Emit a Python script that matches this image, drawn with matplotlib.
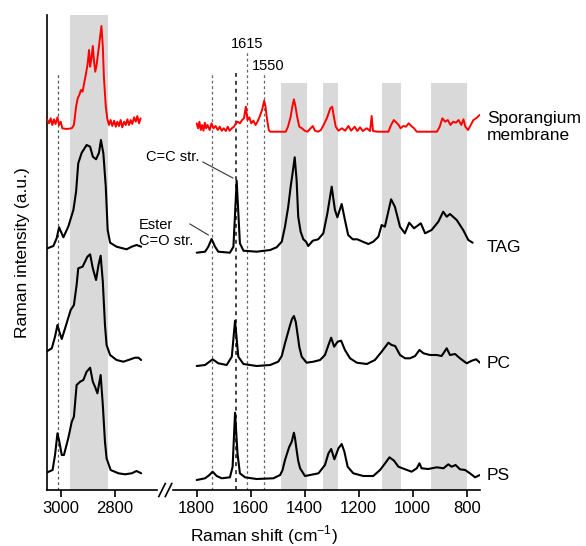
import matplotlib
matplotlib.use('Agg')
import matplotlib.pyplot as plt
from matplotlib.lines import Line2D

plt.rcParams['font.family'] = ['Liberation Sans', 'DejaVu Sans']
plt.rcParams['mathtext.fontset'] = 'custom'
plt.rcParams['mathtext.rm'] = 'Liberation Sans'

# ---------------- data (y in stacked plot units) ----------------
# High-wavenumber region (left panel)
memb_hi_x = [3049, 3043, 3037, 3031, 3025, 3019, 3012, 3006, 3000, 2994, 2978, 2959, 2951, 2943,
             2937, 2931, 2925, 2919, 2912, 2906, 2900, 2895, 2891, 2886, 2881, 2877, 2872, 2867,
             2860, 2854, 2849, 2844, 2840, 2833, 2827, 2821, 2815, 2809, 2802, 2796, 2790, 2784,
             2778, 2772, 2765, 2759, 2753, 2747, 2741, 2735, 2728, 2722, 2716, 2710, 2704]
memb_hi_y = [370, 366.7, 371.7, 365, 370.7, 366, 372.7, 365, 368.3, 361.7, 361, 361.7, 365, 383.3,
             391.7, 395, 400, 398.3, 408.3, 416.7, 426.7, 440, 423.3, 431.7, 444, 430, 418.3, 425,
             440, 453.3, 464, 443.3, 413.3, 383.3, 370.7, 365, 370, 364, 369.3, 363.3, 368.3, 364,
             370, 362.7, 368.3, 365, 370.7, 365, 370, 366, 372.7, 368.3, 374, 366.7, 371.7]

tag_hi_x = [3049, 3027, 3015, 3006, 2999, 2990, 2972, 2953, 2943, 2935, 2922, 2904, 2891, 2881,
            2869, 2858, 2851, 2842, 2833, 2826, 2817, 2793, 2756, 2737, 2719, 2702]
tag_hi_y = [241.7, 244, 251.7, 262.7, 258.3, 252.7, 263.3, 280, 298.3, 326.7, 337.3, 345, 343.3, 333.3,
            330.7, 337.3, 350, 336.7, 303.3, 260, 247.3, 243.3, 240.7, 243.3, 245, 243.3]

pc_hi_x = [3049, 3033, 3021, 3012, 3005, 2996, 2980, 2963, 2951, 2941, 2935, 2919, 2910, 2901,
           2891, 2881, 2869, 2860, 2852, 2844, 2836, 2830, 2817, 2793, 2768, 2749, 2725, 2712, 2702]
pc_hi_y = [139, 141.7, 153.3, 165, 158.3, 151, 165, 180, 185, 205, 221.7, 223.3, 228.3, 233.3,
           235.7, 221.7, 210, 225, 234.3, 208.3, 165, 145, 135, 130, 128.3, 130, 132.3, 132.3, 130]

ps_hi_x = [3049, 3030, 3021, 3012, 3005, 2996, 2988, 2972, 2959, 2951, 2941, 2928, 2916, 2904,
           2891, 2881, 2873, 2864, 2852, 2844, 2836, 2830, 2815, 2786, 2762, 2737, 2719, 2702]
ps_hi_y = [17.7, 20, 35, 56.7, 48.3, 35, 35, 51.7, 68.3, 73.3, 105, 108.3, 110, 118.3,
           122.3, 108.3, 103.3, 96.7, 115, 85, 48.3, 31.7, 20, 16.7, 15.7, 16.7, 19, 16.7]

# Fingerprint region (right panel)
memb_lo_x = [1800, 1795, 1790, 1785, 1780, 1775, 1770, 1765, 1760, 1752, 1745, 1738, 1730, 1722,
             1715, 1707, 1700, 1692, 1685, 1678, 1670, 1662, 1655, 1648, 1640, 1632, 1625, 1618,
             1612, 1605, 1598, 1590, 1582, 1575, 1567, 1558, 1550, 1545, 1540, 1533, 1528, 1470,
             1462, 1452, 1446, 1440, 1434, 1428, 1420, 1410, 1400, 1390, 1378, 1370, 1362, 1350,
             1340, 1330, 1318, 1305, 1298, 1292, 1285, 1275, 1262, 1250, 1238, 1228, 1215, 1205,
             1195, 1185, 1170, 1158, 1152, 1147, 1130, 1090, 1080, 1070, 1060, 1052, 1045, 1035,
             1025, 1015, 1005, 995, 985, 910, 900, 890, 880, 870, 860, 850, 840, 830, 820, 812,
             805, 795, 785, 775, 765, 752]
memb_lo_y = [366.7, 361.7, 368.3, 360, 365, 359.3, 367.3, 361.7, 365, 360, 366.7, 361.7, 364, 360,
             363.3, 359.3, 361.7, 359, 363.3, 359.3, 361.7, 363.3, 366.7, 368.3, 366.7, 370, 371.7, 383.3,
             370, 372.7, 366.7, 369.3, 365, 368.3, 373.3, 380, 389.3, 383.3, 371.7, 360, 358.3, 358.3,
             363.3, 373.3, 383.3, 390.7, 383.3, 373.3, 363.3, 361.7, 359.3, 358.3, 361.7, 364, 359.3, 358.3,
             360, 365, 371.7, 381.7, 383.3, 373.3, 363.3, 359.3, 361.7, 359.3, 364, 359.3, 363.3, 359,
             362.7, 359, 361.7, 359, 374, 359, 358.3, 358.3, 365, 370, 367.3, 365, 361.7, 364,
             363.3, 366.7, 364, 361.7, 358.3, 358.3, 363.3, 371.7, 368.3, 370, 365, 368.3, 367.3, 370, 365, 370.7,
             363.3, 360, 365, 370, 371.7, 375]

tag_lo_x = [1800, 1769, 1757, 1745, 1732, 1720, 1677, 1664, 1652, 1640, 1627, 1578, 1528, 1504,
            1485, 1473, 1461, 1452, 1445, 1437, 1430, 1424, 1415, 1405, 1395, 1387, 1370, 1350,
            1331, 1316, 1300, 1288, 1279, 1263, 1251, 1239, 1222, 1205, 1185, 1164, 1146, 1127,
            1115, 1103, 1080, 1066, 1047, 1029, 1013, 995, 970, 954, 930,
            905, 887, 874, 862, 837, 813, 794, 778]
tag_lo_y = [237.3, 238.3, 243.3, 251, 243.3, 238.3, 237.3, 243.3, 309.3, 246.7, 239.3, 238.3, 240, 242.7,
            248.3, 263.3, 283.3, 303.3, 316.7, 332.7, 310, 273.3, 258.3, 250.7, 248.3, 244, 249.3, 250.7,
            256.7, 276.7, 303.3, 280, 272.7, 286, 270, 255, 250.7, 250.7, 248.3, 246, 248.3, 253.3,
            265, 263.3, 290.7, 283.3, 263.3, 256.7, 267.3, 261.7, 266.7, 256.7, 260,
            268.3, 278.3, 273.3, 276, 270, 260, 250, 247.3]

pc_lo_x = [1800, 1769, 1741, 1720, 1689, 1670, 1658, 1646, 1627, 1578, 1528, 1498, 1485, 1473, 1454,
           1447, 1440, 1433, 1427, 1420, 1411, 1393, 1368, 1343, 1325, 1312, 1302, 1291, 1278, 1265,
           1251, 1232, 1207, 1170, 1140, 1115, 1090, 1078, 1065, 1047, 1028, 1010, 991, 975, 960, 936,
           911, 893, 874, 862, 843, 825, 800, 781, 765, 751]
pc_lo_y = [124, 125, 130.7, 126.7, 125, 133.3, 169.3, 133.3, 126, 124, 125, 128.3, 134, 146.7, 165,
           171, 174, 168, 156.7, 143, 133.3, 127.3, 128.3, 130, 135, 145, 152.3, 143.3, 148.3, 149.3,
           140, 131.7, 127.3, 126, 130, 138.3, 147.3, 145, 144, 135, 131.7, 131.7, 134, 140, 136.7, 135,
           135, 134, 141.7, 135, 136, 131.7, 126.7, 129.3, 130.7, 127.3]

ps_lo_x = [1800, 1769, 1753, 1741, 1726, 1707, 1677, 1667, 1658, 1649, 1640, 1621, 1578, 1516,
           1491, 1482, 1473, 1458, 1448, 1440, 1436, 1430, 1424, 1417, 1399, 1380, 1349, 1325, 1312,
           1302, 1290, 1275, 1263, 1253, 1241, 1220, 1183, 1146, 1121, 1102, 1086, 1069, 1053, 1028,
           1004, 985, 975, 967, 942, 911, 886, 868, 856, 841, 825, 806, 788, 769, 751]
ps_lo_y = [10, 11.7, 15, 18.3, 14, 11.7, 12.7, 23.3, 77.3, 36.7, 16.7, 12.7, 11, 11.7,
           15, 20, 30, 42.7, 48.3, 57.3, 52, 40, 29, 21.7, 14, 15, 16.7, 25, 36.7,
           41, 30.7, 41.7, 46, 38.3, 23.3, 16.7, 14, 14, 20, 26.7, 32.7, 29.3, 23.3, 20.7,
           18.3, 21.7, 26.7, 21.7, 21, 22.7, 21.7, 25.7, 23.3, 25, 20.7, 20, 16.7, 12.7, 15]

hi_bands = [(2966, 2826)]
lo_bands = [(1488, 1393), (1331, 1275), (1112, 1044), (932, 800)]
hi_dashed = [3009]
lo_dashed = [1745, 1655, 1615, 1550]
hi_ticks = [3000, 2800]
lo_ticks = [1800, 1600, 1400, 1200, 1000, 800]
labels = ['Sporangium\nmembrane', 'TAG', 'PC', 'PS']
label_y = [363, 243, 127, 15]

# ---------------- figure ----------------
W, H = 586, 546
fig = plt.figure(figsize=(W / 100, H / 100), dpi=100)
top_px, bot_px = 14.6, 490
YTOP = bot_px - top_px
ax1 = fig.add_axes([47.3 / W, 1 - bot_px / H, (156.7 - 47.3) / W, (bot_px - top_px) / H])
ax2 = fig.add_axes([173.3 / W, 1 - bot_px / H, (480 - 173.3) / W, (bot_px - top_px) / H])
ax1.set_xlim(3049.6, 2644.4)
ax2.set_xlim(1886.7, 750.7)
for ax in (ax1, ax2):
    ax.set_ylim(0, YTOP)
    ax.set_yticks([])
    for s in ('top', 'right'):
        ax.spines[s].set_visible(False)
    ax.spines['bottom'].set_linewidth(1.2)
    ax.tick_params(axis='x', direction='out', length=5, width=1.2, labelsize=12, pad=3)
ax2.spines['left'].set_visible(False)
ax1.spines['left'].set_linewidth(1.2)
ax1.set_xticks(hi_ticks)
ax2.set_xticks(lo_ticks)

band_col = '#d9d9d9'
for a, b in hi_bands:
    ax1.axvspan(a, b, ymin=0, ymax=1, color=band_col, lw=0, zorder=0)
for a, b in lo_bands:
    ax2.axvspan(a, b, ymin=0, ymax=407.3 / YTOP, color=band_col, lw=0, zorder=0)

dash = (0, (2.2, 2.2))
for v in hi_dashed:
    ax1.plot([v, v], [0, 416.7], ls=dash, color='#555555', lw=0.9, zorder=1)
dash_tops = {1745: 416.7, 1655: 416.7, 1615: 438.3, 1550: 416.7}
for v in lo_dashed:
    c = '#333333' if v == 1655 else '#666666'
    w = 1.3 if v == 1655 else 0.9
    ax2.plot([v, v], [0, dash_tops[v]], ls=dash, color=c, lw=w, zorder=1)

lw = 1.5
kw = dict(solid_joinstyle='round', solid_capstyle='round', zorder=3)
ax1.plot(memb_hi_x, memb_hi_y, color='#ff0000', lw=1.4, **kw)
ax2.plot(memb_lo_x, memb_lo_y, color='#ff0000', lw=1.4, **kw)
for xs, ys in ((tag_hi_x, tag_hi_y), (pc_hi_x, pc_hi_y), (ps_hi_x, ps_hi_y)):
    ax1.plot(xs, ys, color='black', lw=lw, **kw)
for xs, ys in ((tag_lo_x, tag_lo_y), (pc_lo_x, pc_lo_y), (ps_lo_x, ps_lo_y)):
    ax2.plot(xs, ys, color='black', lw=lw, **kw)

# right-side labels
for lab, yy in zip(labels, label_y):
    ax2.text(725, yy, lab, fontsize=12.5, ha='left', va='center', clip_on=False,
             linespacing=1.1)

# annotations
ax2.text(1791, 333, 'C=C str.', fontsize=10.5, ha='right', va='center')
ax2.plot([1777, 1666], [328, 312], color='#333333', lw=0.8)
ax2.text(2014, 257, 'Ester\nC=O str.', fontsize=10.5, ha='left', va='center',
         clip_on=False, linespacing=1.25)
ax2.plot([1825, 1757], [266, 255], color='#333333', lw=0.8, clip_on=False)
ax2.text(1615, 446, '1615', fontsize=10.5, ha='center', va='center')
ax2.text(1536, 424.3, '1550', fontsize=10.5, ha='center', va='center')

# axis break marks
for x0 in (158.8, 165.3):
    fig.add_artist(Line2D([x0 / W, (x0 + 6.5) / W], [1 - 496.5 / H, 1 - 483.5 / H],
                          color='black', lw=1.2))

fig.text(264 / W, 1 - 535 / H, 'Raman shift (cm$^{-1}$)', fontsize=12.5, ha='center', va='center')
fig.text(22 / W, 1 - 252.5 / H, 'Raman intensity (a.u.)', fontsize=12.5, ha='center', va='center',
         rotation=90)

fig.savefig('out.png', dpi=100)
